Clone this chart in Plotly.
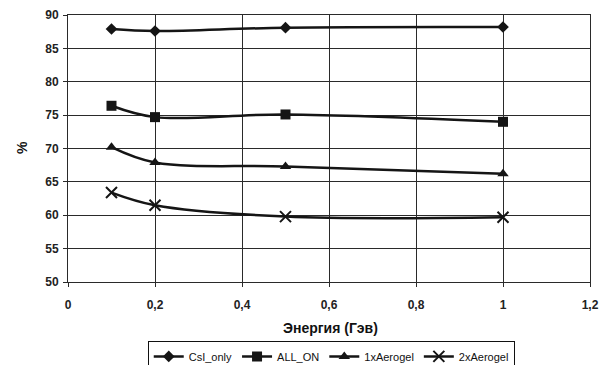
import plotly.graph_objects as go

# Energy points (GeV)
energy = [0.1, 0.2, 0.5, 1.0]

# Efficiency, %
csi_only = [87.9, 87.6, 88.1, 88.2]
all_on = [76.4, 74.7, 75.1, 74.0]
aerogel_1x = [70.2, 67.9, 67.3, 66.2]
aerogel_2x = [63.4, 61.5, 59.8, 59.7]

series_names = ["CsI_only", "ALL_ON", "1xAerogel", "2xAerogel"]
series_values = [csi_only, all_on, aerogel_1x, aerogel_2x]
symbols = ["diamond", "square", "triangle-up", "x-thin"]
sizes = [9, 10, 10, 11]

ink = "#151515"

fig = go.Figure()
for name, vals, sym, sz in zip(series_names, series_values, symbols, sizes):
    marker = dict(symbol=sym, size=sz, color=ink)
    if sym == "x-thin":
        marker["line"] = dict(width=2, color=ink)
    fig.add_trace(go.Scatter(
        x=energy, y=vals, name=name, mode="lines+markers",
        line=dict(color=ink, width=2.5, shape="spline", smoothing=1),
        marker=marker,
    ))

axis_common = dict(
    showgrid=True, gridcolor="#2a2a2a", gridwidth=1,
    showline=True, linecolor="#2a2a2a", linewidth=1, mirror=True,
    ticks="outside", tickcolor="#2a2a2a", ticklen=4,
    tickfont=dict(family="Liberation Sans, Arial", size=12, color="#222", weight="bold"),
    zeroline=False, automargin=False,
)

fig.update_xaxes(range=[0, 1.2], dtick=0.2, tick0=0, ticklabelstandoff=8, **axis_common)
fig.update_yaxes(range=[50, 90], dtick=5, tick0=50, ticklabelstandoff=2, **axis_common)

fig.add_annotation(
    text="Энергия (Гэв)", xref="paper", yref="paper", x=0.502, y=-0.172,
    xanchor="center", yanchor="middle", showarrow=False,
    font=dict(family="Liberation Sans, Arial", size=14, color="#111", weight="bold"),
)
fig.add_annotation(
    text="%", xref="paper", yref="paper", x=-0.088, y=0.502,
    xanchor="center", yanchor="middle", showarrow=False, textangle=-90,
    font=dict(family="Liberation Sans, Arial", size=14, color="#111", weight="bold"),
)

fig.update_layout(
    width=599, height=365,
    margin=dict(l=68, r=9, t=15, b=83, autoexpand=False),
    paper_bgcolor="white", plot_bgcolor="white",
    separators=",.",
    showlegend=True,
    legend=dict(
        orientation="h", xref="container", x=0.553, xanchor="center",
        yref="container", y=0.066, yanchor="top",
        bordercolor="#111", borderwidth=1, bgcolor="white",
        font=dict(family="Liberation Sans, Arial", size=11, color="#111"),
        itemwidth=30, tracegroupgap=0,
    ),
)

fig.write_html("out.html")
